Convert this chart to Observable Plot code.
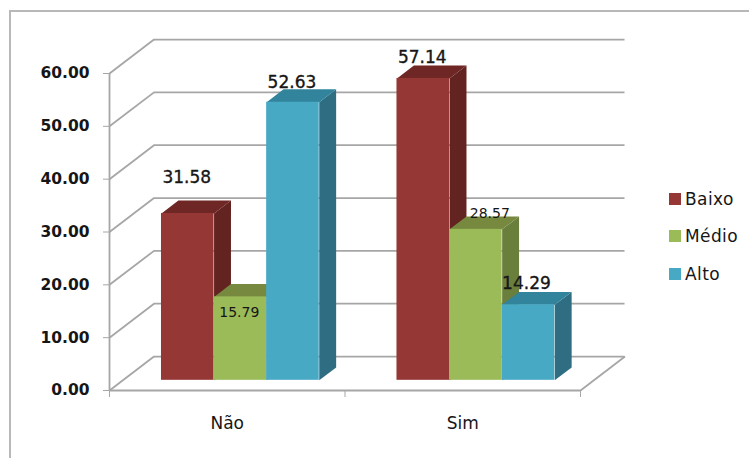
<!DOCTYPE html>
<html>
<head>
<meta charset="utf-8">
<script src="https://cdn.jsdelivr.net/npm/d3@7"></script>
<script src="https://cdn.jsdelivr.net/npm/@observablehq/plot@0.6"></script>
<style>
  html, body { margin: 0; background: #fff; }
  #chart { position: relative; width: 749px; height: 458px; overflow: hidden; font-family: "DejaVu Sans", sans-serif; }
  #chart svg { position: absolute; left: 0; top: 0; background: transparent; }
  #outline { position: absolute; left: 9px; top: 10px; right: -4px; bottom: -4px; border-left: 2px solid #b8b8b8; border-top: 2px solid #b8b8b8; }
  #legend { position: absolute; left: 669px; top: 180px; color: #161616; font-size: 17px; }
  #legend div { display: flex; align-items: center; height: 37.5px; letter-spacing: 0.4px; }
  #legend i { display: block; width: 12px; height: 12px; margin-right: 4px; }
</style>
</head>
<body>
<div id="chart"><div id="outline"></div><div id="legend"></div></div>
<script>
// Survey results by answer and level
const categories = ["Não", "Sim"];
const series = ["Baixo", "Médio", "Alto"];
const baixo = [31.58, 57.14];
const medio = [15.79, 28.57];
const alto = [52.63, 14.29];
const yTicks = [0, 10, 20, 30, 40, 50, 60];

// Face colours for each series
const frontColors = ["#953735", "#9bbb59", "#48a9c5"];
const sideColors = ["#632320", "#6a7f3b", "#2f6e82"];
const topColors = ["#6e2725", "#77893f", "#31849b"];

// Oblique projection: a full unit of depth shifts by this much in data units
const depthX = 0.189;
const depthY = 6.43;
const barDepthStart = 0.3;
const barDepthEnd = 0.68;
const groupInset = 0.164;
const barWidth = 0.2233;

const px = (x, d) => x + d * depthX;
const py = (y, d) => y + d * depthY;

const values = [baixo, medio, alto];
const bars = categories.flatMap((category, c) =>
  series.map((name, s) => {
    const x0 = c + groupInset + s * barWidth;
    return {category, name, value: values[s][c], x0, x1: x0 + barWidth, s};
  })
);

// Labels sit by hand around each bar: pixel offset from the top of the front face and type size
const labelPlacement = {
  "Não|Baixo": {dx: -1, dy: -36, size: 17, weight: 500},
  "Não|Médio": {dx: -1, dy: 16, size: 14, weight: 400},
  "Não|Alto": {dx: -1, dy: -20, size: 17, weight: 500},
  "Sim|Baixo": {dx: -1, dy: -21, size: 17, weight: 500},
  "Sim|Médio": {dx: 14, dy: -16, size: 14, weight: 400},
  "Sim|Alto": {dx: -2, dy: -21, size: 17, weight: 500}
};

// Solid faces of one bar, painted back to front
function barMarks(b) {
  const d0 = barDepthStart, d1 = barDepthEnd;
  const side = [
    {x: px(b.x1, d0), y: py(0, d0)},
    {x: px(b.x1, d1), y: py(0, d1)},
    {x: px(b.x1, d1), y: py(b.value, d1)},
    {x: px(b.x1, d0), y: py(b.value, d0)}
  ];
  const top = [
    {x: px(b.x0, d0), y: py(b.value, d0)},
    {x: px(b.x1, d0), y: py(b.value, d0)},
    {x: px(b.x1, d1), y: py(b.value, d1)},
    {x: px(b.x0, d1), y: py(b.value, d1)}
  ];
  return [
    Plot.line(side, {x: "x", y: "y", fill: sideColors[b.s], stroke: "none"}),
    Plot.line(top, {x: "x", y: "y", fill: topColors[b.s], stroke: "none"}),
    Plot.rect([b], {
      x1: (d) => px(d.x0, d0),
      x2: (d) => px(d.x1, d0),
      y1: py(0, d0),
      y2: (d) => py(d.value, d0),
      fill: frontColors[b.s]
    })
  ];
}

const gridColor = "#a6a6a6";
const xEnd = categories.length;

const chart = Plot.plot({
  width: 749,
  height: 458,
  marginLeft: 109,
  marginRight: 169,
  marginTop: 73,
  marginBottom: 68,
  x: {domain: [0, xEnd]},
  y: {domain: [0, 60]},
  style: {background: "transparent", fontFamily: "DejaVu Sans, sans-serif"},
  marks: [
    // Back wall
    Plot.ruleY(yTicks, {
      y: (d) => py(d, 1),
      x1: px(0, 1),
      x2: px(xEnd, 1),
      stroke: gridColor,
      strokeWidth: 1.8
    }),
    // Side wall
    Plot.link(yTicks, {
      x1: px(0, 0),
      x2: px(0, 1),
      y1: (d) => d,
      y2: (d) => py(d, 1),
      stroke: gridColor,
      strokeWidth: 1.8
    }),
    // Floor edges
    Plot.link([0], {
      x1: px(xEnd, 0),
      x2: px(xEnd, 1),
      y1: py(0, 0),
      y2: py(0, 1),
      stroke: gridColor,
      strokeWidth: 1.8
    }),
    Plot.ruleY([0], {stroke: gridColor, strokeWidth: 1.8}),
    Plot.ruleX([0], {stroke: gridColor, strokeWidth: 1.8}),
    Plot.axisY({
      ticks: yTicks,
      tickFormat: d3.format(".2f"),
      tickSize: 6,
      tickPadding: 14,
      stroke: gridColor,
      fill: "#161616",
      fontSize: 15.5,
      fontWeight: "bold",
      label: null
    }),
    Plot.axisX({
      ticks: d3.range(0, xEnd + 1),
      tickFormat: () => "",
      tickSize: 7,
      stroke: gridColor,
      label: null
    }),
    Plot.text(categories, {
      x: (d, i) => i + 0.5,
      y: 0,
      text: (d) => d,
      dy: 33,
      fontSize: 17,
      fill: "#161616"
    }),
    ...bars.flatMap(barMarks),
    ...bars.map((b) => {
      const place = labelPlacement[b.category + "|" + b.name];
      return Plot.text([b], {
        x: (d) => px((d.x0 + d.x1) / 2, barDepthStart),
        y: (d) => py(d.value, barDepthStart),
        text: (d) => d.value.toFixed(2),
        dx: place.dx,
        dy: place.dy,
        fontSize: place.size,
        fontWeight: place.weight,
        fill: "#161616",
        stroke: "#161616",
        strokeWidth: place.weight > 400 ? 0.35 : 0
      });
    })
  ]
});
document.getElementById("chart").appendChild(chart);

// Legend
const legend = d3.select("#legend");
series.forEach((name, s) => {
  const row = legend.append("div");
  row.append("i").style("background", frontColors[s]);
  row.append("span").text(name);
});
</script>
</body>
</html>
